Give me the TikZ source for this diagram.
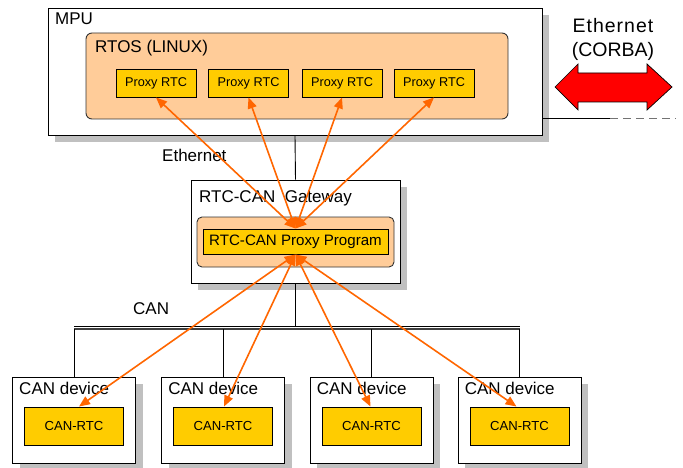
\documentclass[tikz,border=0pt]{standalone}
\usepackage{fontspec}
\setmainfont{Liberation Sans}
\usetikzlibrary{arrows.meta,calc,shadows}
\definecolor{peach}{HTML}{FFCC99}
\definecolor{gold}{HTML}{FFCC00}
\definecolor{orng}{HTML}{FF6600}
\definecolor{shadowgray}{HTML}{C0C0C0}
\definecolor{bigred}{HTML}{FF0000}
\begin{document}
\begin{tikzpicture}[x=1pt,y=-1pt,
  shd/.style={drop shadow={shadow xshift=7pt,shadow yshift=-7pt,fill=shadowgray,opacity=1}},
  outer/.style={draw=black,line width=0.9pt,fill=white,inner sep=0pt,shd},
  peachbox/.style={draw=black!80,line width=0.9pt,fill=peach,rounded corners=6pt,inner sep=0pt},
  goldbox/.style={draw=black,line width=0.9pt,fill=gold,inner sep=0pt},
  lbl/.style={anchor=base west,inner sep=0pt,font=\fontsize{17}{20}\selectfont},
  wire/.style={draw=black,line width=0.9pt},
  oarrow/.style={draw=orng,line width=1.6pt,{Triangle[length=11pt,width=9pt]}-{Triangle[length=11pt,width=9pt]}}
]
\useasboundingbox (0,0) rectangle (683,468);

% ---------- MPU ----------
\node[outer,minimum width=494pt,minimum height=127pt] (mpu) at (295,71.5) {};
\node[lbl] (mpulbl) at (55,25) {MPU};
\node[peachbox,minimum width=422pt,minimum height=86pt] (rtos) at (297,76) {};
\node[lbl] (rtoslbl) at (95,53) {RTOS (LINUX)};
\foreach \i/\x in {1/156,2/248.5,3/342,4/434}{
  \node[goldbox,minimum width=80pt,minimum height=28pt,font=\fontsize{12.7}{14}\selectfont] (p\i) at (\x,83) {Proxy RTC};
}

% ---------- Gateway ----------
\node[outer,minimum width=209pt,minimum height=103pt] (gw) at (295.5,231.5) {};
\node[lbl] (gwlbl) at (199,203) {RTC-CAN~ Gateway};
\node[peachbox,rounded corners=5pt,minimum width=197pt,minimum height=50pt] (gwin) at (295.5,242) {};
\node[goldbox,minimum width=185pt,minimum height=25pt,font=\fontsize{15.1}{17}\selectfont] (pp) at (295.5,241.5) {RTC-CAN Proxy Program};

% ---------- CAN devices ----------
\foreach \i/\x in {1/74,2/223,3/371.5,4/519.5}{
  \node[outer,minimum width=123pt,minimum height=86pt] (d\i) at (\x,420) {};
  \node[lbl] (dl\i) at ($(d\i.north west)+(7,18)$) {CAN device};
  \node[goldbox,minimum width=99pt,minimum height=38pt,font=\fontsize{13.1}{15}\selectfont] (c\i) at (\x,426) {CAN-RTC};
}

% ---------- Ethernet link ----------
\draw[wire] (mpu.south) -- (gw.north);
\node[lbl] (ethlbl) at (162,161) {Ethernet};
\coordinate (ethend) at (610,118);
\coordinate (ethdash) at (676,118);
\draw[wire] (mpu.east |- ethend) -- (ethend);
\draw[draw=black!55,line width=0.9pt,dash pattern=on 8pt off 5pt] (ethend) -- (ethdash);

% ---------- CAN bus ----------
\coordinate (busL) at (74,326);
\coordinate (busR) at (520,326);
\coordinate (bus2L) at (74,329);
\coordinate (bus2R) at (520,329);
\draw[wire] (gw.south) -- (gw.south |- busL);
\draw[wire,line width=0.7pt] (busL) -- (busR);
\draw[wire,line width=1.1pt,draw=black!75] (bus2L) -- (bus2R);
\foreach \i in {1,2,3,4}{
  \draw[wire] (d\i.north |- bus2L) -- (d\i.north);
}
\node[lbl] (canlbl) at (133,314) {CAN};

% ---------- Orange arrows ----------
\foreach \i in {1,2,3,4}{
  \draw[oarrow] (pp.north) -- (p\i.south);
}
\draw[oarrow] (pp.south) -- ([xshift=5pt]c1.north);
\draw[oarrow] (pp.south) -- ([xshift=1pt]c2.north);
\draw[oarrow] (pp.south) -- ([xshift=-1pt]c3.north);
\draw[oarrow] (pp.south) -- ([xshift=-3pt]c4.north);

% ---------- Red double arrow ----------
\filldraw[fill=bigred,draw=black,line width=0.7pt]
  (555,87) -- (578,64) -- (578,73) -- (647,73) -- (647,64) -- (672,87)
  -- (647,110) -- (647,102) -- (578,102) -- (578,110) -- cycle;
\node[anchor=base,inner sep=0pt,font=\fontsize{19.5}{22}\selectfont\addfontfeatures{LetterSpace=5}] (eth2) at (613,33) {Ethernet};
\node[anchor=base,inner sep=0pt,font=\fontsize{19.5}{22}\selectfont] (corba) at (613,57) {(CORBA)};
\end{tikzpicture}
\end{document}
